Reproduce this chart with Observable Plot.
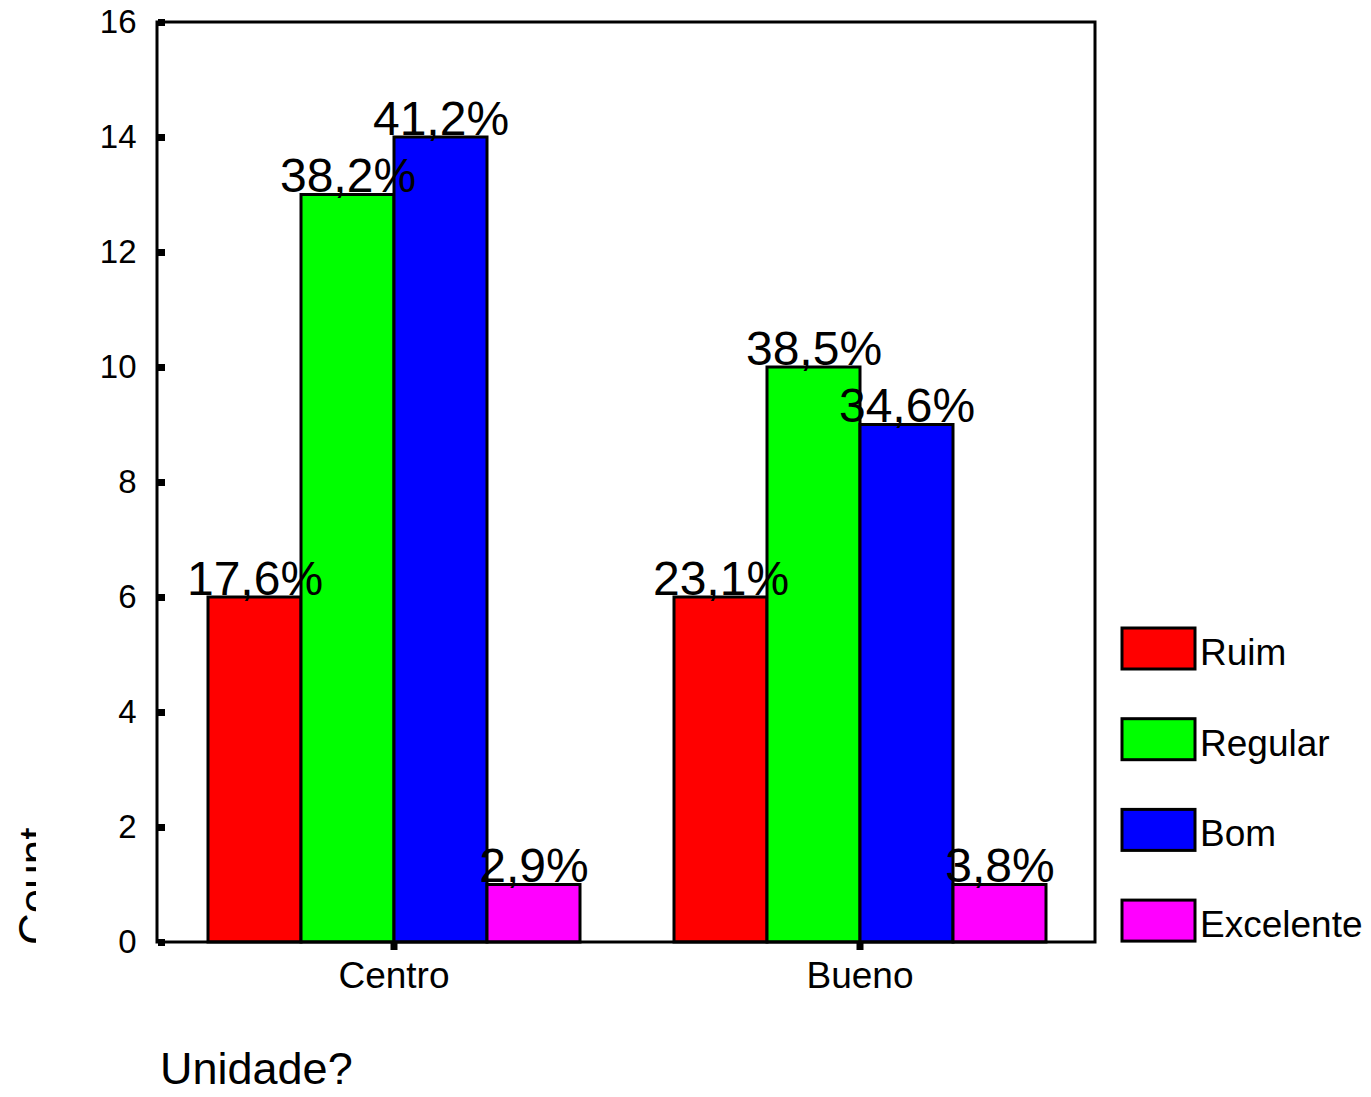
<!DOCTYPE html>
<html><head><meta charset="utf-8">
<script src="https://cdn.jsdelivr.net/npm/d3@7"></script>
<script src="https://cdn.jsdelivr.net/npm/@observablehq/plot@0.6"></script>
<style>body{margin:0;background:#fff;} #chart{position:relative;width:1371px;height:1097px;overflow:hidden}</style>
</head><body><div id="chart"></div>
<script>
const units = ["Centro", "Bueno"];
const categories = ["Ruim", "Regular", "Bom", "Excelente"];
const colors = ["#ff0000", "#00ff00", "#0000ff", "#ff00ff"];
const countsCentro = [6, 13, 14, 1];
const countsBueno = [6, 10, 9, 1];
const pctCentro = ["17,6%", "38,2%", "41,2%", "2,9%"];
const pctBueno = ["23,1%", "38,5%", "34,6%", "3,8%"];
const yTicks = [0, 2, 4, 6, 8, 10, 12, 14, 16];
const yLabel = "Count";
const xLabel = "Unidade?";

const data = [];
units.forEach((u, i) => {
  const c = i === 0 ? countsCentro : countsBueno;
  const p = i === 0 ? pctCentro : pctBueno;
  categories.forEach((cat, j) => data.push({unit: u, cat, count: c[j], pct: p[j]}));
});

const W = 1371, H = 1097, mL = 157, mR = 276, mT = 22, mB = 155;
const font = "'Liberation Sans', Arial, Helvetica, sans-serif";

const svg = Plot.plot({
  width: W, height: H,
  marginLeft: mL, marginRight: mR, marginTop: mT, marginBottom: mB,
  style: {fontFamily: font, background: "#fff", color: "#000", overflow: "visible"},
  fx: {domain: units, paddingInner: 0.02, paddingOuter: 0.0154, label: null},
  x: {domain: categories, paddingInner: 0, paddingOuter: 0.4385, axis: null},
  y: {domain: [0, 16], label: null},
  color: {domain: categories, range: colors},
  marks: [
    Plot.barY(data, {fx: "unit", x: "cat", y: "count", fill: "cat", stroke: "#000", strokeWidth: 3, inset: 0}),
    Plot.text(data, {fx: "unit", x: "cat", y: "count", text: "pct", lineAnchor: "bottom", dy: -3, fontSize: 48, fill: "#000"}),
    Plot.axisY({ticks: yTicks, tickSize: 7, strokeWidth: 7, tickPadding: 22, fontSize: 33, label: null, tickFormat: d => String(d)}),
    Plot.axisFx({anchor: "bottom", tickSize: 8, strokeWidth: 7, tickPadding: 11, fontSize: 37, label: null})
  ]
});
document.getElementById("chart").appendChild(svg);

const s = d3.select(svg);
// frame
s.append("rect").attr("x", mL).attr("y", mT).attr("width", W - mL - mR).attr("height", H - mT - mB)
  .attr("fill", "none").attr("stroke", "#000").attr("stroke-width", 3);

// legend
const lg = s.append("g").attr("font-family", font).attr("text-anchor", "start");
categories.forEach((cat, i) => {
  const top = 628 + i * 90.7;
  lg.append("rect").attr("x", 1122).attr("y", top).attr("width", 73).attr("height", 41)
    .attr("fill", colors[i]).attr("stroke", "#000").attr("stroke-width", 3);
  lg.append("text").attr("x", 1200).attr("y", top + 37).attr("font-size", 37).attr("fill", "#000").text(cat);
});

// y label (clipped as in the reference)
const defs = s.append("defs");
defs.append("clipPath").attr("id", "ylabclip").append("rect").attr("x", 0).attr("y", 700).attr("width", 36).attr("height", 300);
s.append("g").attr("clip-path", "url(#ylabclip)")
  .append("text").attr("transform", "translate(50,945) rotate(-90)").attr("text-anchor", "start")
  .attr("font-family", font).attr("font-size", 44).attr("fill", "#000").text(yLabel);

// x label
s.append("text").attr("x", 160).attr("y", 1084).attr("text-anchor", "start").attr("font-family", font)
  .attr("font-size", 45).attr("fill", "#000").text(xLabel);
</script>
</body></html>
